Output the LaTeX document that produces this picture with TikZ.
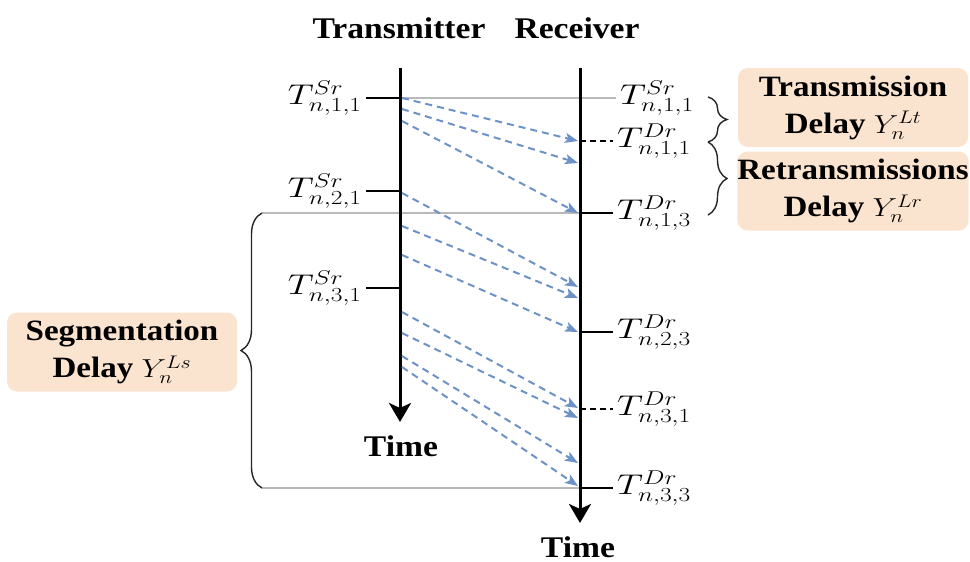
\RequirePackage{fix-cm}
\documentclass[tikz,border=0pt]{standalone}
\usepackage[no-math]{fontspec}
\setmainfont{Liberation Serif}[FakeStretch=1.12]
\usepackage{graphicx}
\usetikzlibrary{arrows.meta, decorations.pathreplacing, backgrounds}
\definecolor{boxpeach}{RGB}{251,228,207}
\definecolor{msgblue}{RGB}{108,146,200}
\definecolor{linegray}{RGB}{185,185,185}
\newcommand{\tlbl}[1]{\scalebox{1.28}[1]{$#1$}}
\newcommand{\ylbl}[1]{{\fontsize{26}{26}\selectfont\scalebox{1.2}[1]{$#1$}}}

\begin{document}
\begin{tikzpicture}[x=1pt, y=-1pt,
  headtext/.style={font=\fontsize{30}{30}\selectfont\bfseries},
  lbl/.style={font=\fontsize{28.5}{28.5}\selectfont, inner xsep=4pt, inner ysep=0pt},
  timeline/.style={line width=3pt, -{Stealth[length=19pt, width=22pt, inset=5pt]}},
  msg/.style={msgblue, line width=2pt, dash pattern=on 7pt off 5pt,
              -{Stealth[length=13pt, width=10pt, inset=3pt]}},
  tickline/.style={line width=2pt},
  dtick/.style={line width=2pt, dash pattern=on 6pt off 4pt},
  guide/.style={linegray, line width=2pt},
  brc/.style={decorate, decoration={brace, amplitude=#1}, line width=1.4pt, black!85},
  delaybox/.style={fill=boxpeach, rounded corners=10pt, minimum width=230, minimum height=79,
                   align=center, inner sep=0pt, font=\fontsize{29.5}{37}\selectfont\bfseries}]
  \useasboundingbox (0,0) rectangle (970,562);

  \node[headtext] (txhead) at (399,28) {Transmitter};
  \node[headtext] (rxhead) at (577,28) {Receiver};

  \coordinate (tx0) at (400,68); \coordinate (tx1) at (400,422);
  \coordinate (rx0) at (580,68); \coordinate (rx1) at (580,523);
  \coordinate (sgtop) at (262,213); \coordinate (sgbot) at (262,488);

  % sender side
  \foreach \i/\y in {1/98, 2/191, 3/288} {
    \coordinate (ts\i) at (400,\y);
    \node[lbl, anchor=east] (ls\i) at (366,\y) {\tlbl{T^{Sr}_{n,\i,1}}};
    \draw[tickline] (ls\i.east) -- (ts\i);
  }
  % receiver side
  \node[lbl, anchor=west] (lr0) at (616,98) {\tlbl{T^{Sr}_{n,1,1}}};
  \foreach \nm/\y/\sty/\lab in {a/141/dtick/{T^{Dr}_{n,1,1}}, b/213/tickline/{T^{Dr}_{n,1,3}},
      c/332/tickline/{T^{Dr}_{n,2,3}}, d/409/dtick/{T^{Dr}_{n,3,1}}, e/488/tickline/{T^{Dr}_{n,3,3}}} {
    \coordinate (tr\nm) at (580,\y);
    \node[lbl, anchor=west] (lr\nm) at (613,\y) {\tlbl{\lab}};
    \draw[\sty] (tr\nm) -- (lr\nm.west);
  }
  \begin{scope}[on background layer]
    \draw[guide] (ts1) -- (lr0.west);
    \draw[guide] (sgtop) -- (rx0 |- sgtop);
    \draw[guide] (sgbot) -- (rx0 |- sgbot);
  \end{scope}

  \draw[timeline] (tx0) -- (tx1);
  \draw[timeline] (rx0) -- (rx1);
  \node[headtext] (txtime) at (401,446) {Time};
  \node[headtext] (rxtime) at (578,547) {Time};

  % segments and retransmissions
  \foreach \s/\e [count=\k] in {98/141, 109/163, 121/213, 193/287, 226/298, 255/332,
                                312/408, 333/418, 356/463, 367/486} {
    \coordinate (ms\k) at (402,\s);
    \coordinate (me\k) at (578,\e);
    \draw[msg] (ms\k) -- (me\k);
  }

  \draw[brc=21pt] (sgbot) -- (sgtop);
  \coordinate (bt0) at (708,97); \coordinate (bt1) at (708,142); \coordinate (bt2) at (708,215);
  \draw[brc=19pt] (bt0) -- (bt1);
  \draw[brc=19pt] (bt1) -- (bt2);

  \node[delaybox] (sdelay) at (122,352) {Segmentation\\Delay \ylbl{Y_n^{Ls}}};
  \node[delaybox] (tdelay) at (853,107.5) {Transmission\\Delay \ylbl{Y_n^{Lt}}};
  \node[delaybox] (rdelay) at (853,191) {Retransmissions\\Delay \ylbl{Y_n^{Lr}}};
\end{tikzpicture}
\end{document}
